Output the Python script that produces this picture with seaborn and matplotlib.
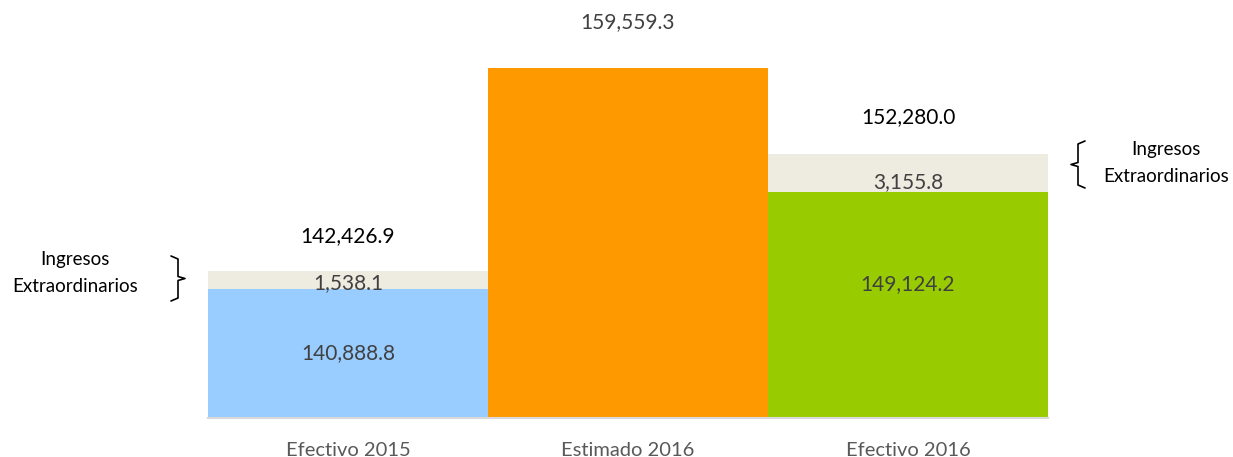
import matplotlib
matplotlib.use("Agg")
import matplotlib.pyplot as plt
import seaborn as sns
import pandas as pd
from matplotlib.lines import Line2D

# data
categorias = ["Efectivo 2015", "Estimado 2016", "Efectivo 2016"]
base = [140888.8, 159559.3, 149124.2]
extraordinarios = [1538.1, 0.0, 3155.8]
totales = [b + e for b, e in zip(base, extraordinarios)]

df = pd.DataFrame({"cat": categorias, "base": base, "extra": extraordinarios, "total": totales})

sns.set_style("white")
plt.rcParams["font.family"] = ["Lato", "DejaVu Sans"]

fig = plt.figure(figsize=(12.33, 4.57), dpi=100)
ax = fig.add_axes([208 / 1233, (457 - 418.3) / 457, 840 / 1233, 418.3 / 457])

# total bars (beige = extraordinary income on top), then base bars over them
sns.barplot(data=df, x="cat", y="total", hue="cat", palette=["#EEEBE0", "#FF9900", "#EEEBE0"],
            width=1.0, saturation=1, legend=False, linewidth=0, ax=ax)
sns.barplot(data=df, x="cat", y="base", hue="cat", palette=["#99CCFF", "#FF9900", "#99CC00"],
            width=1.0, saturation=1, legend=False, linewidth=0, ax=ax)

ax.set_xlim(-0.5, 2.5)
ax.set_ylim(130000, 165300)
ax.set_xlabel("")
ax.set_ylabel("")
ax.set_yticks([])
for s in ["top", "left", "right"]:
    ax.spines[s].set_visible(False)
ax.spines["bottom"].set_color("#D9D9D9")
ax.spines["bottom"].set_linewidth(1.5)
ax.tick_params(axis="x", length=0, pad=17, labelsize=14.5, labelcolor="#595959")

fmt = lambda v: f"{v:,.1f}"
txt = "#404040"
fs = 15

# total labels
tot_off = [35, 46, 37]
for i, t in enumerate(totales):
    col = txt if extraordinarios[i] == 0 else "black"
    ax.annotate(fmt(t), (i, t), xytext=(0, tot_off[i] * 0.72), textcoords="offset points",
                ha="center", va="center", fontsize=fs, color=col)

# extraordinary labels
ext_off = [6, 10]
for k, i in enumerate([0, 2]):
    ax.annotate(fmt(extraordinarios[i]), (i, base[i]), xytext=(0, ext_off[k] * 0.72),
                textcoords="offset points", ha="center", va="center", fontsize=fs, color=txt)

# base labels
base_off = [-64, -92]
for k, i in enumerate([0, 2]):
    ax.annotate(fmt(base[i]), (i, base[i]), xytext=(0, base_off[k] * 0.72),
                textcoords="offset points", ha="center", va="center", fontsize=fs, color=txt)

# side notes with braces (figure pixel coordinates)
W, H = 1233, 457
def px(x, y):
    return x / W, 1 - y / H

def brace(x, y0, y1, d):
    ym = (y0 + y1) / 2
    xs = [x - d, x, x, x + d, x, x, x - d]
    ys = [y0, y0 + 3, ym - 2, ym, ym + 2, y1 - 3, y1]
    pts = [px(a, b) for a, b in zip(xs, ys)]
    fig.add_artist(Line2D([p[0] for p in pts], [p[1] for p in pts], color="black", lw=1.2,
                          transform=fig.transFigure))

brace(178, 256, 301, 7)
brace(1078, 141, 188, -7)

for (xc, yc) in [(75, 273), (1166, 163)]:
    fig.text(*px(xc, yc), "Ingresos\nExtraordinarios", ha="center", va="center",
             fontsize=13.5, color="black", linespacing=1.75)

fig.savefig("out.png", dpi=100)
